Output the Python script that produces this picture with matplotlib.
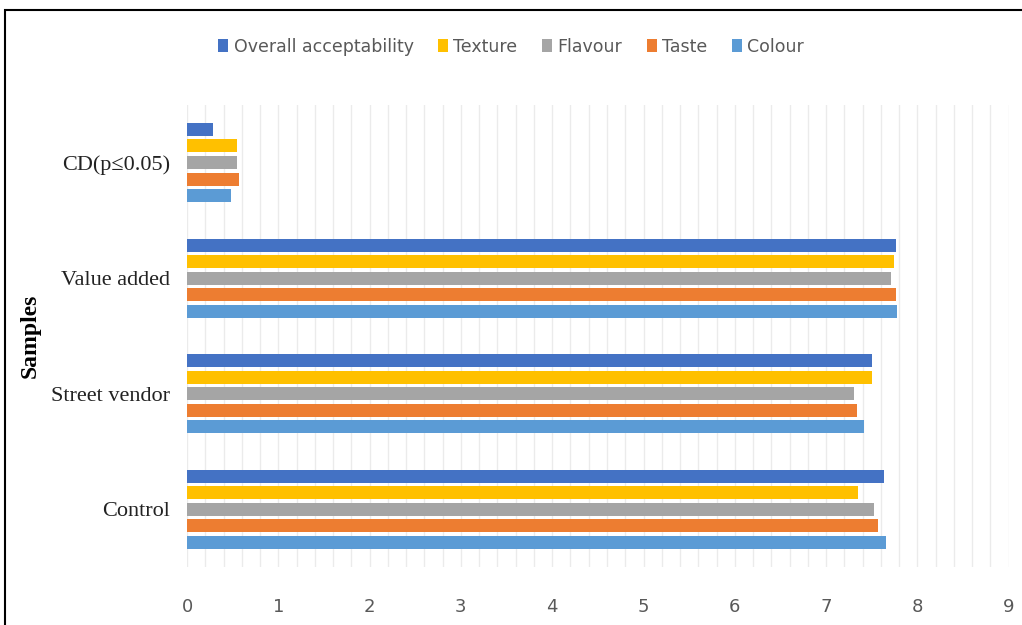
import numpy as np
import matplotlib.pyplot as plt
from matplotlib.patches import Rectangle

# Sample groups, bottom to top
samples = ['Control', 'Street vendor', 'Value added', 'CD(p≤0.05)']

# Sensory scores per attribute (same order as samples)
overall = [7.63, 7.50, 7.76, 0.28]
texture = [7.35, 7.50, 7.74, 0.55]
flavour = [7.52, 7.30, 7.71, 0.55]
taste = [7.57, 7.34, 7.77, 0.57]
colour = [7.66, 7.41, 7.78, 0.48]

series = [
    ('Overall acceptability', overall, '#4472C4'),
    ('Texture', texture, '#FFC000'),
    ('Flavour', flavour, '#A5A5A5'),
    ('Taste', taste, '#ED7D31'),
    ('Colour', colour, '#5B9BD5'),
]

fig = plt.figure(figsize=(10.22, 6.25), dpi=100)
ax = fig.add_axes([0.183, 0.0925, 0.804, 0.74])

# outer frame of the chart
fig.patches.append(Rectangle((0.005, -0.05), 1.2, 1.034, transform=fig.transFigure,
                             fill=False, edgecolor='black', linewidth=1.5))

y = np.arange(len(samples))
pitch = 0.143
height = 0.112
offsets = [2, 1, 0, -1, -2]
for (name, vals, col), off in zip(series, offsets):
    ax.barh(y + off * pitch, vals, height=height, color=col, label=name, zorder=3)

ax.set_xlim(0, 9)
ax.set_ylim(-0.5, 3.5)
ax.set_xticks(range(10))
ax.set_xticks(np.arange(0, 9.01, 0.2), minor=True)
ax.grid(axis='x', which='both', color='#EBEBEB', linewidth=1, zorder=0)
ax.tick_params(axis='x', which='both', length=0, pad=22, labelsize=13, labelcolor='#595959')
ax.tick_params(axis='y', length=0, pad=12)
ax.set_yticks(y)
ax.set_yticklabels(samples, fontfamily='Liberation Serif', fontsize=16, color='#222222')
for s in ax.spines.values():
    s.set_visible(False)

ax.set_ylabel('Samples', fontfamily='Liberation Serif', fontweight='bold', fontsize=17, labelpad=8)

fig.legend(loc='center', bbox_to_anchor=(0.5, 0.925), ncol=5, frameon=False,
           fontsize=12.5, labelcolor='#595959', handlelength=0.6, handleheight=0.8,
           handletextpad=0.3, columnspacing=1.4)

fig.savefig('out.png', dpi=100)
